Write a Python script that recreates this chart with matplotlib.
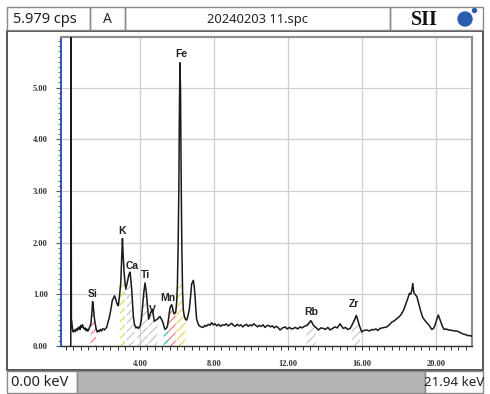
import matplotlib
matplotlib.use("Agg")
import matplotlib.pyplot as plt
from matplotlib.patches import Rectangle, Circle
from matplotlib.ticker import MultipleLocator
import numpy as np

# ---------------- data ----------------
energy_kev = [0.24, 0.26, 0.27, 0.29, 0.31, 0.36, 0.40, 0.45, 0.50, 0.55, 0.60, 0.64, 0.67,
              0.72, 0.76, 0.80, 0.85, 0.90, 0.95, 1.00, 1.03, 1.08, 1.12, 1.16, 1.21, 1.27,
              1.34, 1.40, 1.44, 1.48, 1.53, 1.57, 1.63, 1.69, 1.75, 1.80, 1.86, 1.92, 1.97,
              2.02, 2.08, 2.14, 2.20, 2.26, 2.32, 2.38, 2.45, 2.50, 2.56, 2.62, 2.67, 2.72,
              2.78, 2.83, 2.90, 2.96, 3.01, 3.05, 3.09, 3.14, 3.19, 3.23, 3.28, 3.34, 3.40,
              3.46, 3.50, 3.55, 3.60, 3.64, 3.70, 3.78, 3.85, 3.92, 4.00, 4.07, 4.14, 4.21,
              4.27, 4.32, 4.36, 4.42, 4.47, 4.53, 4.58, 4.67, 4.72, 4.77, 4.85, 4.94, 5.01,
              5.08, 5.15, 5.21, 5.28, 5.35, 5.42, 5.48, 5.55, 5.62, 5.71, 5.78, 5.84, 5.93,
              5.98, 6.02, 6.06, 6.10, 6.13, 6.16, 6.19, 6.22, 6.26, 6.30, 6.34, 6.38, 6.45,
              6.52, 6.59, 6.66, 6.73, 6.79, 6.88, 6.93, 6.97, 7.02, 7.06, 7.13, 7.20, 7.30,
              7.42, 7.50, 7.58, 7.69, 7.78, 7.87, 7.96, 8.05, 8.15, 8.25, 8.35, 8.45, 8.55,
              8.65, 8.75, 8.85, 8.95, 9.05, 9.15, 9.25, 9.35, 9.45, 9.55, 9.65, 9.75, 9.85,
              9.95, 10.05, 10.15, 10.25, 10.35, 10.45, 10.55, 10.65, 10.75, 10.85, 10.95,
              11.05, 11.15, 11.25, 11.35, 11.45, 11.57, 11.70, 11.84, 11.95, 12.08, 12.18,
              12.29, 12.40, 12.52, 12.65, 12.75, 12.88, 13.01, 13.12, 13.23, 13.30, 13.37,
              13.50, 13.64, 13.77, 13.91, 14.02, 14.15, 14.27, 14.40, 14.54, 14.66, 14.81,
              14.90, 14.99, 15.10, 15.22, 15.35, 15.45, 15.53, 15.62, 15.68, 15.74, 15.80,
              15.90, 15.98, 16.10, 16.25, 16.40, 16.52, 16.61, 16.75, 16.85, 16.97, 17.10,
              17.22, 17.34, 17.47, 17.60, 17.75, 17.88, 18.02, 18.15, 18.27, 18.38, 18.47,
              18.56, 18.63, 18.69, 18.74, 18.78, 18.81, 18.88, 18.96, 19.03, 19.10, 19.18,
              19.28, 19.38, 19.50, 19.62, 19.77, 19.86, 19.95, 20.04, 20.12, 20.18, 20.25,
              20.34, 20.43, 20.55, 20.66, 20.76, 20.88, 21.00, 21.12, 21.25, 21.36, 21.48,
              21.60, 21.72, 21.84, 21.93]
counts_cps = [0.00, 0.00, 7.00, 0.52, 0.48, 0.30, 0.27, 0.31, 0.28, 0.33, 0.30, 0.35, 0.33,
              0.37, 0.32, 0.40, 0.36, 0.41, 0.34, 0.33, 0.35, 0.30, 0.33, 0.29, 0.30, 0.36,
              0.42, 0.65, 0.86, 0.74, 0.55, 0.45, 0.33, 0.27, 0.30, 0.28, 0.32, 0.29, 0.33,
              0.33, 0.31, 0.34, 0.36, 0.45, 0.52, 0.62, 0.76, 0.88, 0.92, 0.97, 0.93, 0.86,
              0.80, 0.78, 1.00, 1.23, 1.70, 2.08, 1.75, 1.42, 1.22, 1.10, 1.18, 1.28, 1.38,
              1.43, 1.30, 1.10, 0.80, 0.57, 0.42, 0.35, 0.37, 0.34, 0.38, 0.50, 0.77, 1.05,
              1.22, 1.10, 0.97, 0.70, 0.52, 0.60, 0.65, 0.71, 0.60, 0.48, 0.50, 0.52, 0.55,
              0.57, 0.52, 0.48, 0.40, 0.32, 0.34, 0.38, 0.55, 0.74, 0.80, 0.70, 0.62, 0.65,
              0.85, 1.17, 1.95, 3.10, 4.60, 5.48, 4.90, 3.40, 1.90, 1.05, 0.70, 0.60, 0.52,
              0.50, 0.58, 0.70, 0.95, 1.20, 1.27, 1.15, 0.97, 0.70, 0.52, 0.44, 0.39, 0.37,
              0.36, 0.40, 0.38, 0.42, 0.40, 0.45, 0.41, 0.43, 0.39, 0.42, 0.38, 0.41, 0.40,
              0.43, 0.39, 0.41, 0.44, 0.40, 0.38, 0.42, 0.39, 0.41, 0.37, 0.40, 0.42, 0.38,
              0.41, 0.39, 0.43, 0.40, 0.37, 0.40, 0.38, 0.41, 0.36, 0.39, 0.40,
              0.37, 0.39, 0.35, 0.38, 0.36, 0.31, 0.35, 0.37, 0.33, 0.36, 0.33,
              0.34, 0.36, 0.33, 0.37, 0.35, 0.38, 0.40, 0.44, 0.49, 0.45, 0.40,
              0.36, 0.31, 0.35, 0.34, 0.32, 0.36, 0.31, 0.34, 0.37, 0.35, 0.43,
              0.38, 0.34, 0.36, 0.32, 0.34, 0.40, 0.46, 0.53, 0.59, 0.54, 0.46,
              0.35, 0.27, 0.30, 0.31, 0.29, 0.32, 0.31, 0.33, 0.30, 0.34, 0.35,
              0.36, 0.37, 0.41, 0.46, 0.49, 0.53, 0.57, 0.63, 0.72, 0.83, 0.92,
              1.02, 1.00, 1.08, 1.21, 1.08, 1.02, 0.99, 0.96, 0.86, 0.77, 0.66,
              0.55, 0.50, 0.45, 0.40, 0.32, 0.34, 0.41, 0.52, 0.60, 0.54, 0.47,
              0.38, 0.32, 0.33, 0.31, 0.31, 0.30, 0.29, 0.29, 0.27, 0.25, 0.23,
              0.22, 0.20, 0.20, 0.19]

peak_names = ["Si", "K", "Ca", "Ti", "V", "Mn", "Fe", "Rb", "Zr"]
peak_label_kev = [1.44, 3.05, 3.60, 4.30, 4.68, 5.48, 6.22, 13.23, 15.55]
peak_label_cps = [0.90, 2.12, 1.45, 1.27, 0.60, 0.83, 5.55, 0.57, 0.71]

# hatched ROI regions
roi_start = [1.30, 2.90, 3.25, 3.85, 4.45, 5.28, 5.55, 5.95, 12.95, 15.40]
roi_end = [1.65, 3.20, 3.70, 4.45, 5.00, 5.58, 5.95, 6.45, 13.55, 15.95]
roi_color = ["#f08080", "#e8d860", "#c8c8c8", "#c8c8c8", "#c8c8c8", "#40b0b0",
             "#f08080", "#e8d860", "#c8c8c8", "#c8c8c8"]

y_max = 5.979
x_min, x_max = -0.27, 21.94
W, H = 490, 394

# ---------------- figure ----------------
fig = plt.figure(figsize=(W / 100, H / 100), dpi=100)
fig.patch.set_facecolor("white")

def fr(x0, y0, x1, y1):
    return [x0 / W, 1 - y1 / H, (x1 - x0) / W, (y1 - y0) / H]

ax = fig.add_axes(fr(61, 37, 472, 346))
ax.set_xlim(x_min, x_max)
ax.set_ylim(0, y_max)

ax.xaxis.set_major_locator(MultipleLocator(4))
ax.xaxis.set_minor_locator(MultipleLocator(0.4))
ax.yaxis.set_major_locator(MultipleLocator(1))
ax.yaxis.set_minor_locator(MultipleLocator(0.1))
ax.grid(True, which="major", color="#cfcfcf", linewidth=0.9)
ax.set_axisbelow(True)

e = np.array(energy_kev)
c = np.array(counts_cps)
plt.rcParams["hatch.linewidth"] = 0.9
for s, t, col in zip(roi_start, roi_end, roi_color):
    m = (e >= s) & (e <= t)
    ax.fill_between(e, 0, np.minimum(c, 1.2), where=m, facecolor="none",
                    edgecolor=col, hatch="////", linewidth=0, zorder=2)

ax.plot(e, c, color="#1a1a1a", linewidth=1.1, zorder=3, clip_on=True)

for n, xx, yy in zip(peak_names, peak_label_kev, peak_label_cps):
    ax.text(xx, yy, n, ha="center", va="bottom", fontsize=7.5, fontweight="bold",
            family="Liberation Sans", color="#222222", zorder=4)

for sp in ["top", "right"]:
    ax.spines[sp].set_color("#909090")
    ax.spines[sp].set_linewidth(1.6)
ax.spines["left"].set_color("#2f55b0")
ax.spines["left"].set_linewidth(1.4)
ax.spines["bottom"].set_color("#333333")
ax.spines["bottom"].set_linewidth(1.0)

ax.tick_params(axis="y", which="major", length=3.5, width=0.8, color="#445577",
               labelsize=6, pad=6)
ax.tick_params(axis="y", which="minor", length=2, width=0.6, color="#445577")
ax.tick_params(axis="x", which="major", length=3, width=0.7, color="#333333",
               labelsize=6, pad=7)
ax.tick_params(axis="x", which="minor", length=3, width=0.7, color="#333333")
ax.set_xticks([4, 8, 12, 16, 20])
ax.set_xticklabels(["4.00", "8.00", "12.00", "16.00", "20.00"])
ax.set_yticks([0, 1, 2, 3, 4, 5])
ax.set_yticklabels(["0.00", "1.00", "2.00", "3.00", "4.00", "5.00"])
for lab in ax.get_xticklabels() + ax.get_yticklabels():
    lab.set_family("Liberation Serif")
    lab.set_fontweight("bold")
    lab.set_color("#333333")

# ---------------- overlay (frames & header) ----------------
ov = fig.add_axes([0, 0, 1, 1], facecolor="none")
ov.set_xlim(0, W)
ov.set_ylim(H, 0)
ov.axis("off")

def box(x0, y0, x1, y1, fc="none", ec="#777777", lw=1.0, z=1):
    ov.add_patch(Rectangle((x0, y0), x1 - x0, y1 - y0, facecolor=fc,
                           edgecolor=ec, linewidth=lw, zorder=z))

box(7, 31, 483, 370, ec="#555555", lw=1.4)
box(7, 7, 90, 30, ec="#888888")
box(90, 7, 125, 30, ec="#888888")
box(125, 7, 390, 30, ec="#888888")
box(390, 7, 483, 30, ec="#888888")
hf = "Noto Sans"
ov.text(45, 19, "5.979 cps", ha="center", va="center", fontsize=10.5, family=hf, color="#222222")
ov.text(107, 19, "A", ha="center", va="center", fontsize=10, family=hf, color="#222222")
ov.text(257, 19, "20240203 11.spc", ha="center", va="center", fontsize=9.3, family=hf, color="#222222")
ov.text(411, 19.5, "SII", ha="left", va="center", fontsize=14.5, family="Liberation Serif",
        fontweight="bold", color="#111111")
ov.add_patch(Circle((465, 19), 7.0, color="#2a5cb0", zorder=3))
ov.add_patch(Circle((474.5, 10.5), 2.0, color="#2a5cb0", zorder=3))

box(7, 371, 77, 393, fc="white", ec="#888888")
box(77, 371, 425, 393, fc="#b4b4b4", ec="#888888")
box(425, 371, 483, 393, fc="white", ec="#888888")
ov.text(40, 382, "0.00 keV", ha="center", va="center", fontsize=10.5, family=hf, color="#222222")
ov.text(454, 382, "21.94 keV", ha="center", va="center", fontsize=9.6, family=hf, color="#222222")

fig.savefig("out.png", dpi=100, facecolor="white")
